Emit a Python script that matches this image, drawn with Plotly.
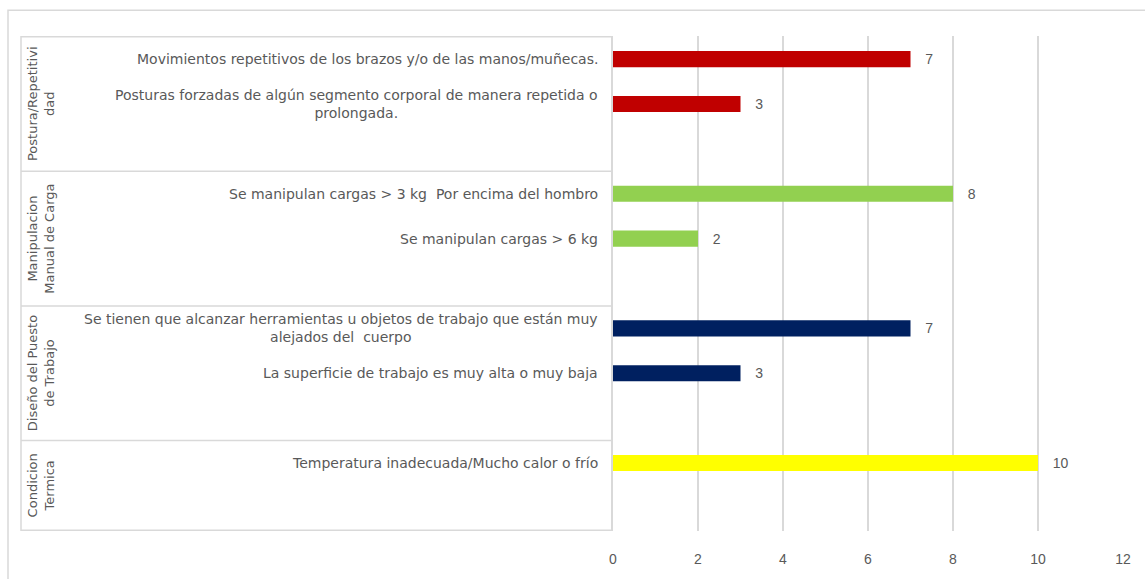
import plotly.graph_objects as go

# ---- data ----
groups = [
    "Postura/Repetitivi<br>dad",
    "Manipulacion<br>Manual de Carga",
    "Diseño del Puesto<br>de Trabajo",
    "Condicion<br>Termica",
]
group_items = [
    ["Movimientos repetitivos de los brazos y/o de las manos/muñecas.",
     "Posturas forzadas de algún segmento corporal de manera repetida o<br>prolongada."],
    ["Se manipulan cargas > 3 kg  Por encima del hombro",
     "Se manipulan cargas > 6 kg"],
    ["Se tienen que alcanzar herramientas u objetos de trabajo que están muy<br>alejados del  cuerpo",
     "La superficie de trabajo es muy alta o muy baja"],
    ["Temperatura inadecuada/Mucho calor o frío"],
]
group_values = [
    [7, 3],
    [8, 2],
    [7, 3],
    [10],
]
group_colors = ["#C00000", "#92D050", "#002060", "#FFFF00"]
x_ticks = [0, 2, 4, 6, 8, 10, 12]

# ---- build category slots (each group followed by one blank slot) ----
slots = []
group_slot_ranges = []
blank_n = 0
for items in group_items:
    start = len(slots)
    slots.extend(items)
    blank_n += 1
    slots.append(" " * blank_n)
    group_slot_ranges.append((start, len(slots) - 1))

W, H = 1145, 579
L, R, T, B = 613, 22, 36, 44
pw = W - L - R
ph = H - T - B

def px_x(px):
    return (px - L) / pw

def px_y(py):
    return (H - B - py) / ph

grid = "#D9D9D9"
txt = "#595959"
lab_font = "DejaVu Sans"

fig = go.Figure()
for items, vals, col in zip(group_items, group_values, group_colors):
    fig.add_trace(go.Bar(
        x=vals, y=items, orientation="h",
        marker=dict(color=col, line=dict(width=0)),
        width=0.36,
        text=vals, texttemplate="   %{x}", textposition="outside",
        textfont=dict(family="Liberation Sans", size=14, color=txt),
        cliponaxis=False, showlegend=False,
    ))

annotations = []
# item labels
for items in group_items:
    for it in items:
        annotations.append(dict(
            xref="paper", yref="y", x=0, y=it, xshift=-13,
            xanchor="right", yanchor="middle", align="center",
            text=it, showarrow=False,
            font=dict(family=lab_font, size=14, color=txt),
        ))
# group labels (rotated)
for g, (s, e) in zip(groups, group_slot_ranges):
    annotations.append(dict(
        xref="paper", yref="y", x=px_x(41), y=(s + e) / 2,
        xanchor="center", yanchor="middle", align="center",
        text=g, textangle=-90, showarrow=False,
        font=dict(family=lab_font, size=13, color=txt),
    ))

shapes = []
# outer chart border
shapes.append(dict(type="rect", xref="paper", yref="paper",
                   x0=px_x(8), x1=px_x(W + 10), y0=px_y(H + 10), y1=px_y(10),
                   line=dict(color=grid, width=1.5), layer="below"))
# table left line
shapes.append(dict(type="line", xref="paper", yref="paper",
                   x0=px_x(21), x1=px_x(21), y0=0, y1=1,
                   line=dict(color=grid, width=1.5)))
# table separators
bounds = [-0.5] + [e + 0.5 for (s, e) in group_slot_ranges]
for b in bounds:
    shapes.append(dict(type="line", xref="paper", yref="y",
                       x0=px_x(21), x1=0, y0=b, y1=b,
                       line=dict(color=grid, width=1.5)))

fig.update_layout(
    width=W, height=H,
    margin=dict(l=L, r=R, t=T, b=B, pad=0),
    paper_bgcolor="white", plot_bgcolor="white",
    barmode="overlay",
    annotations=annotations, shapes=shapes,
    xaxis=dict(range=[0, 12], tickvals=x_ticks, showgrid=True, gridcolor=grid,
               gridwidth=1.5, zeroline=False, showline=False, ticks="",
               ticklabelstandoff=18,
               tickfont=dict(family="Liberation Sans", size=14, color=txt)),
    yaxis=dict(categoryorder="array", categoryarray=slots, autorange="reversed",
               showticklabels=False, showgrid=False, zeroline=False,
               showline=True, linecolor=grid, linewidth=1.5, ticks=""),
)

fig.write_html("out.html")
